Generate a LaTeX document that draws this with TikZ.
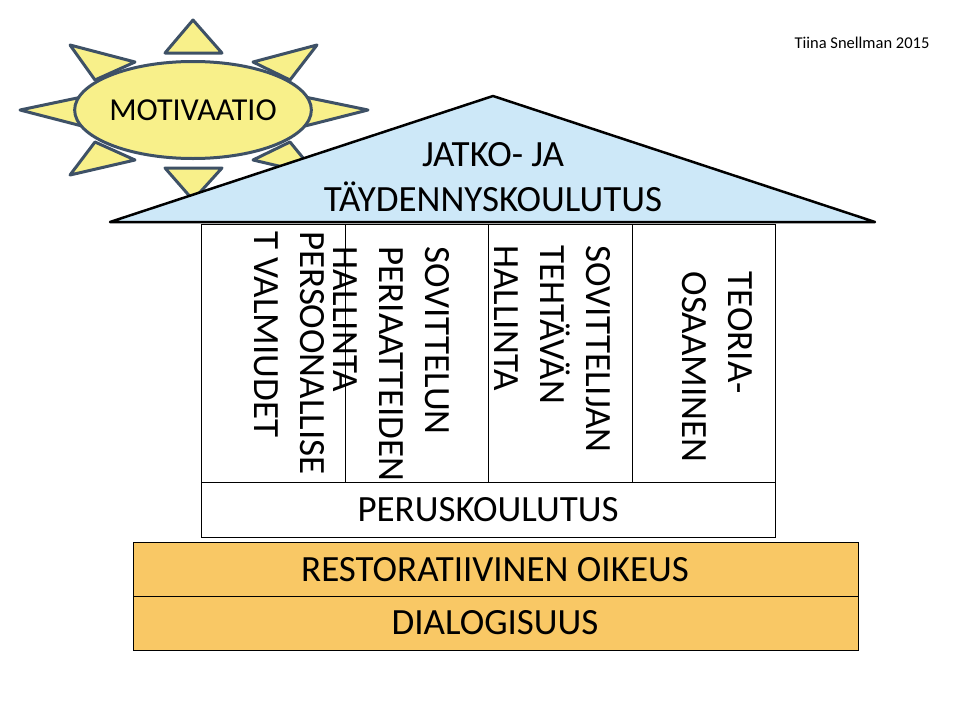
\documentclass[tikz,border=0pt]{standalone}
\usepackage{fontspec}
\setmainfont{Carlito}
\usetikzlibrary{shapes.geometric}
\definecolor{sunfill}{HTML}{F8F08A}
\definecolor{sunline}{HTML}{3E5166}
\definecolor{roofblue}{HTML}{CDE8F8}
\definecolor{baseorange}{HTML}{F9C865}
\tikzset{
  ray/.style={draw=sunline, line width=3pt, fill=sunfill, line join=round},
  bigtext/.style={font=\fontsize{37}{45}\selectfont},
  pillartext/.style={font=\fontsize{37}{46}\selectfont, rotate=-90, align=left}
}
\begin{document}
\begin{tikzpicture}[x=1pt, y=-1pt]
    \useasboundingbox (0,0) rectangle (960,720);
    % credit in the corner
    \node[font=\fontsize{16.5}{19}\selectfont] (credit) at (862,43) {Tiina Snellman 2015};

    % sun with rays
    \draw[ray] (193,20) -- (222,53) -- (165,53) -- cycle;
    \draw[ray] (193,200) -- (222,168) -- (165,168) -- cycle;
    \draw[ray] (20,110) -- (82,97) -- (82,126) -- cycle;
    \draw[ray] (368,110) -- (305,97) -- (305,126) -- cycle;
    \draw[ray] (70,45) -- (135,62) -- (95,80) -- cycle;
    \draw[ray] (317,45) -- (253,62) -- (290,80) -- cycle;
    \draw[ray] (70,175) -- (135,160) -- (95,142) -- cycle;
    \draw[ray] (317,175) -- (253,160) -- (290,142) -- cycle;
    \node[ellipse, draw=sunline, line width=3pt, fill=sunfill, minimum width=193pt, minimum height=97pt, inner sep=0pt, font=\fontsize{32}{36}\selectfont] (motiv) at (193,110) {MOTIVAATIO};

    % roof
    \draw[line width=2.5pt, fill=roofblue, line join=round] (110,222) -- (493,96) -- (875,222) -- cycle;
    \node[bigtext, align=center] (roof) at (493,177) {JATKO- JA\\TÄYDENNYSKOULUTUS};

    % pillars
    \draw[line width=1pt, fill=white] (201,224) rectangle (775,482);
    \foreach \x in {345,488,632}
        \draw[line width=1pt] (\x,224) -- (\x,482);
    \node[pillartext] (p1) at (289,353) {PERSOONALLISE\\T VALMIUDET};
    \node[pillartext] (p2) at (391,364) {SOVITTELUN\\PERIAATTEIDEN\\HALLINTA};
    \node[pillartext] (p3) at (552,349) {SOVITTELIJAN\\TEHTÄVÄN\\HALLINTA};
    \node[pillartext] (p4) at (717,367) {TEORIA-\\OSAAMINEN};

    % foundations
    \draw[line width=1pt, fill=white] (201,482) rectangle (775,537);
    \node[bigtext] (perus) at (488,510) {PERUSKOULUTUS};
    \draw[line width=1pt, fill=baseorange] (133,542) rectangle (858,596);
    \node[bigtext] (resto) at (495,570) {RESTORATIIVINEN OIKEUS};
    \draw[line width=1pt, fill=baseorange] (133,596) rectangle (858,650);
    \node[bigtext] (dialog) at (495,623) {DIALOGISUUS};
\end{tikzpicture}
\end{document}
